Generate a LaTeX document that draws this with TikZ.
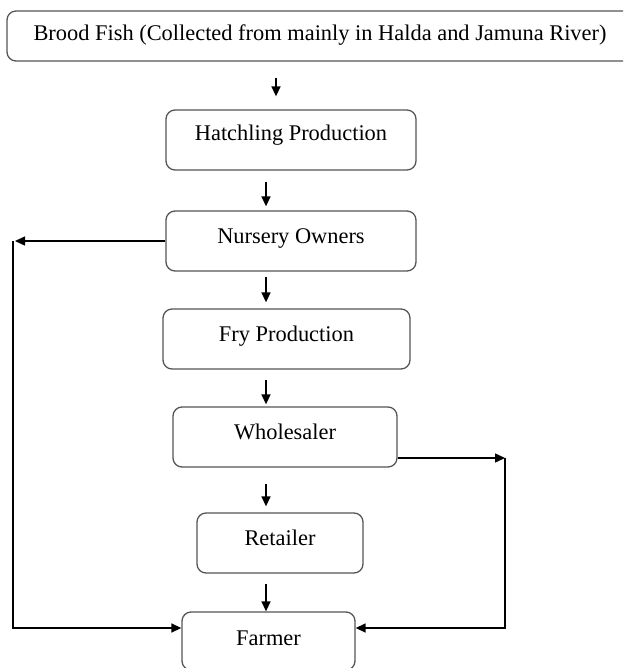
\documentclass[tikz,border=0pt]{standalone}
\usepackage{fontspec}
\setmainfont{Liberation Serif}
\usetikzlibrary{arrows.meta, positioning}
\definecolor{boxline}{HTML}{555555}

\begin{document}
\begin{tikzpicture}[
      x=1pt, y=-1pt, >={Triangle[length=10pt,width=9pt]},
      every node/.style={font=\fontsize{22.4}{26}\selectfont},
      stage/.style={draw=boxline, line width=1.3pt, rounded corners=9pt,
                    inner xsep=0pt, inner ysep=0pt, text height=32pt, text depth=28pt},
      flow/.style={->, line width=1.4pt},
      ]
      \clip (0,0) rectangle (623,668);

      \node[stage, minimum width=626pt, text height=30pt, text depth=20pt] (brood) at (320,36)
            {Brood Fish (Collected from mainly in Halda and Jamuna River)};
      \node[stage, minimum width=250pt, text height=31pt, text depth=29pt] (hatch) at (291,140) {Hatchling Production};
      \node[stage, minimum width=250pt] (nursery) at (291,241) {Nursery Owners};
      \node[stage, minimum width=247pt] (fry)     at (286.5,339) {Fry Production};
      \node[stage, minimum width=224pt] (whole)   at (285,437) {Wholesaler};
      \node[stage, minimum width=166pt] (retail)  at (280,543) {Retailer};
      \node[stage, minimum width=173pt, text height=33pt, text depth=25pt] (farmer) at (268.5,641) {Farmer};

      \coordinate (col1)  at (276,0);
      \coordinate (col)   at (266,0);
      \coordinate (lturn) at (13,241);
      \coordinate (rturn) at (505,458);

      % main chain
      \draw[flow, shorten <=16pt, shorten >=13pt] (brood.south -| col1) -- (hatch.north -| col1);
      \draw[flow, shorten <=11pt, shorten >=4pt] (hatch.south -| col) -- (nursery.north -| col);
      \draw[flow, shorten <=5pt, shorten >=6pt] (nursery.south -| col) -- (fry.north -| col);
      \draw[flow, shorten <=10pt, shorten >=2pt] (fry.south -| col) -- (whole.north -| col);
      \draw[flow, shorten <=16pt, shorten >=6pt] (whole.south -| col) -- (retail.north -| col);
      \draw[flow, shorten <=10pt] (retail.south -| col) -- (farmer.north -| col);

      % side routes to the farmer
      \draw[flow, shorten >=2pt] (nursery.west) -- (lturn);
      \draw[flow] (lturn) |- ([yshift=13pt]farmer.west);
      \draw[flow] ([yshift=-21pt]whole.east) -- (rturn);
      \draw[flow] (rturn) |- ([yshift=13pt]farmer.east);
\end{tikzpicture}
\end{document}
